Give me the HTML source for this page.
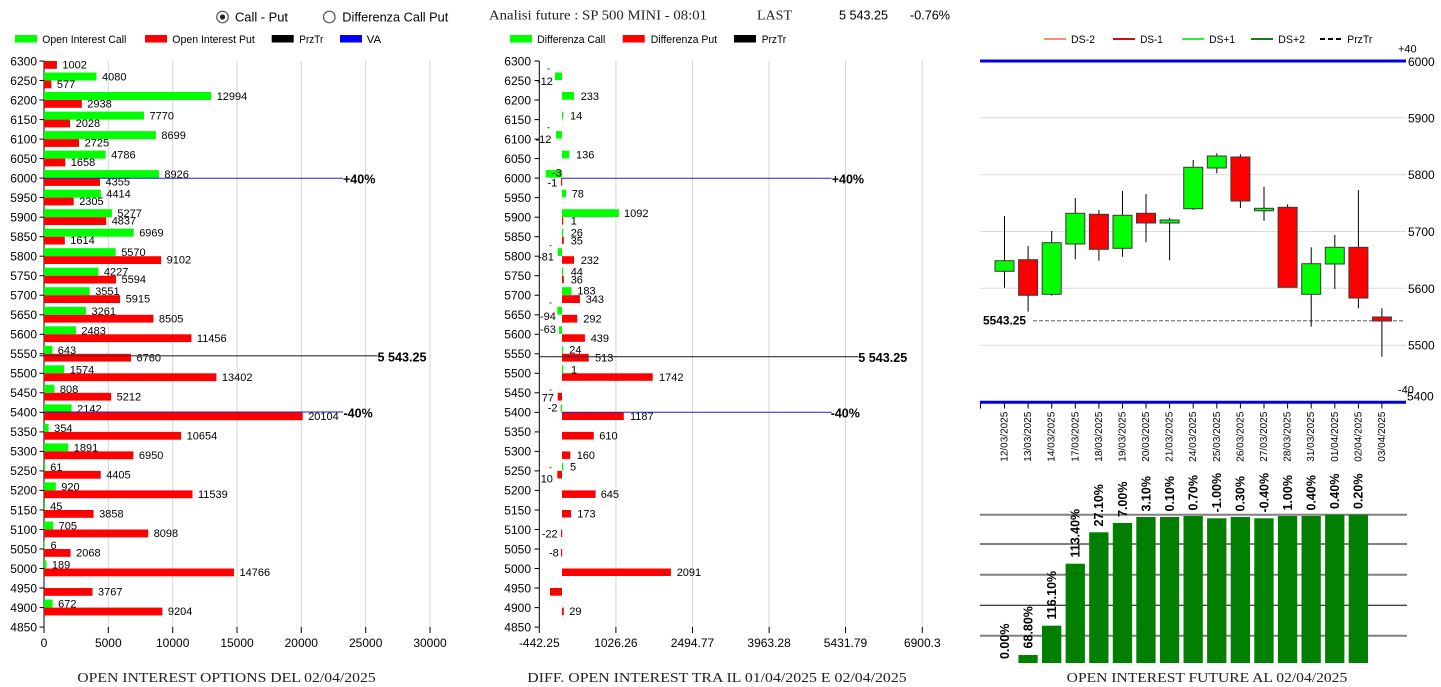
<!DOCTYPE html>
<html><head><meta charset="utf-8"><style>
html,body{margin:0;padding:0;background:#fff;}
svg{display:block;}
text{font-family:"Liberation Sans",Arial,sans-serif;fill:#000;}
.s11{font-size:11px;}
.s12{font-size:12px;}
.ser{font-family:"Liberation Serif","Times New Roman",serif;font-size:13.5px;fill:#222;}
.b{font-weight:bold;font-size:12.5px;}
.mono{font-family:"Liberation Mono","Courier New",monospace;font-weight:bold;font-size:12.5px;}
</style></head><body>
<svg width="1441" height="687" viewBox="0 0 1441 687" xmlns="http://www.w3.org/2000/svg">
<rect width="1441" height="687" fill="#fff"/>

<!-- ===== HEADER ===== -->
<circle cx="222.5" cy="17" r="5.8" fill="#fff" stroke="#555" stroke-width="1.2"/>
<circle cx="222.5" cy="17" r="2.6" fill="#222"/>
<text x="235" y="21.7" style="font-size:13px" textLength="53" lengthAdjust="spacingAndGlyphs">Call - Put</text>
<circle cx="329.3" cy="17" r="5.8" fill="#fff" stroke="#555" stroke-width="1.2"/>
<text x="342.3" y="21.7" style="font-size:13px" textLength="106" lengthAdjust="spacingAndGlyphs">Differenza Call Put</text>

<text x="489" y="19.5" class="ser" style="font-size:13.5px" textLength="218" lengthAdjust="spacingAndGlyphs">Analisi future : SP 500 MINI - 08:01</text>
<text x="757" y="19.5" class="ser" style="font-size:13.5px" textLength="35" lengthAdjust="spacingAndGlyphs">LAST</text>
<text x="839" y="19.5" style="font-size:13px" textLength="49" lengthAdjust="spacingAndGlyphs">5 543.25</text>
<text x="910" y="19.5" style="font-size:13px" textLength="40" lengthAdjust="spacingAndGlyphs">-0.76%</text>

<!-- Left legend -->
<rect x="15" y="35" width="22" height="7.5" fill="#0f0"/>
<text x="42.3" y="43" class="s11" textLength="84" lengthAdjust="spacingAndGlyphs">Open Interest Call</text>
<rect x="145" y="35" width="22" height="7.5" fill="#f00"/>
<text x="172.3" y="43" class="s11" textLength="82.5" lengthAdjust="spacingAndGlyphs">Open Interest Put</text>
<rect x="271.7" y="35" width="22" height="7.5" fill="#000"/>
<text x="299.3" y="43" class="s11" textLength="24" lengthAdjust="spacingAndGlyphs">PrzTr</text>
<rect x="340" y="35" width="22" height="7.5" fill="#00f"/>
<text x="366.7" y="43" class="s11" textLength="14.5" lengthAdjust="spacingAndGlyphs">VA</text>

<!-- Middle legend -->
<rect x="510" y="35" width="22" height="7.5" fill="#0f0"/>
<text x="537.3" y="43" class="s11" textLength="68" lengthAdjust="spacingAndGlyphs">Differenza Call</text>
<rect x="622.7" y="35" width="22" height="7.5" fill="#f00"/>
<text x="650.7" y="43" class="s11" textLength="66.5" lengthAdjust="spacingAndGlyphs">Differenza Put</text>
<rect x="734" y="35" width="22" height="7.5" fill="#000"/>
<text x="761.7" y="43" class="s11" textLength="24.5" lengthAdjust="spacingAndGlyphs">PrzTr</text>

<!-- Right legend -->
<line x1="1044" y1="39" x2="1066" y2="39" stroke="#e9967a" stroke-width="2"/>
<text x="1071" y="43" class="s11" textLength="24" lengthAdjust="spacingAndGlyphs">DS-2</text>
<line x1="1113" y1="39" x2="1135" y2="39" stroke="#cc1111" stroke-width="2"/>
<text x="1140.3" y="43" class="s11" textLength="22.5" lengthAdjust="spacingAndGlyphs">DS-1</text>
<line x1="1182" y1="39" x2="1204" y2="39" stroke="#33ee33" stroke-width="2"/>
<text x="1209.3" y="43" class="s11" textLength="25.7" lengthAdjust="spacingAndGlyphs">DS+1</text>
<line x1="1251" y1="39" x2="1273" y2="39" stroke="#1e7a1e" stroke-width="2"/>
<text x="1278.3" y="43" class="s11" textLength="26.7" lengthAdjust="spacingAndGlyphs">DS+2</text>
<line x1="1320" y1="39" x2="1342" y2="39" stroke="#000" stroke-width="2" stroke-dasharray="5,3"/>
<text x="1347.3" y="43" class="s11" textLength="25" lengthAdjust="spacingAndGlyphs">PrzTr</text>

<!-- ===== LEFT CHART ===== -->
<g stroke="#d6d6d6" stroke-width="1">
<line x1="108.3" y1="61" x2="108.3" y2="627"/>
<line x1="172.7" y1="61" x2="172.7" y2="627"/>
<line x1="237" y1="61" x2="237" y2="627"/>
<line x1="301.3" y1="61" x2="301.3" y2="627"/>
<line x1="365.7" y1="61" x2="365.7" y2="627"/>
<line x1="430" y1="61" x2="430" y2="627"/>
</g>
<g stroke="#000" stroke-width="1">
<line x1="44" y1="61" x2="44" y2="633"/>
<line x1="108.3" y1="627" x2="108.3" y2="633"/>
<line x1="172.7" y1="627" x2="172.7" y2="633"/>
<line x1="237" y1="627" x2="237" y2="633"/>
<line x1="301.3" y1="627" x2="301.3" y2="633"/>
<line x1="365.7" y1="627" x2="365.7" y2="633"/>
<line x1="430" y1="627" x2="430" y2="633"/>
</g>
<g stroke="#000" stroke-width="1">
<line x1="39.5" y1="61" x2="44" y2="61"/><line x1="39.5" y1="80.5" x2="44" y2="80.5"/><line x1="39.5" y1="100" x2="44" y2="100"/><line x1="39.5" y1="119.6" x2="44" y2="119.6"/><line x1="39.5" y1="139.1" x2="44" y2="139.1"/><line x1="39.5" y1="158.6" x2="44" y2="158.6"/><line x1="39.5" y1="178.1" x2="44" y2="178.1"/><line x1="39.5" y1="197.6" x2="44" y2="197.6"/><line x1="39.5" y1="217.2" x2="44" y2="217.2"/><line x1="39.5" y1="236.7" x2="44" y2="236.7"/><line x1="39.5" y1="256.2" x2="44" y2="256.2"/><line x1="39.5" y1="275.7" x2="44" y2="275.7"/><line x1="39.5" y1="295.2" x2="44" y2="295.2"/><line x1="39.5" y1="314.8" x2="44" y2="314.8"/><line x1="39.5" y1="334.3" x2="44" y2="334.3"/><line x1="39.5" y1="353.8" x2="44" y2="353.8"/><line x1="39.5" y1="373.3" x2="44" y2="373.3"/><line x1="39.5" y1="392.8" x2="44" y2="392.8"/><line x1="39.5" y1="412.4" x2="44" y2="412.4"/><line x1="39.5" y1="431.9" x2="44" y2="431.9"/><line x1="39.5" y1="451.4" x2="44" y2="451.4"/><line x1="39.5" y1="470.9" x2="44" y2="470.9"/><line x1="39.5" y1="490.4" x2="44" y2="490.4"/><line x1="39.5" y1="510" x2="44" y2="510"/><line x1="39.5" y1="529.5" x2="44" y2="529.5"/><line x1="39.5" y1="549" x2="44" y2="549"/><line x1="39.5" y1="568.5" x2="44" y2="568.5"/><line x1="39.5" y1="588" x2="44" y2="588"/><line x1="39.5" y1="607.6" x2="44" y2="607.6"/><line x1="39.5" y1="627.1" x2="44" y2="627.1"/>
</g>
<g class="s12" text-anchor="end">
<text x="37" y="65.3">6300</text><text x="37" y="84.8">6250</text><text x="37" y="104.3">6200</text><text x="37" y="123.9">6150</text><text x="37" y="143.4">6100</text><text x="37" y="162.9">6050</text><text x="37" y="182.4">6000</text><text x="37" y="201.9">5950</text><text x="37" y="221.5">5900</text><text x="37" y="241">5850</text><text x="37" y="260.5">5800</text><text x="37" y="280">5750</text><text x="37" y="299.5">5700</text><text x="37" y="319.1">5650</text><text x="37" y="338.6">5600</text><text x="37" y="358.1">5550</text><text x="37" y="377.6">5500</text><text x="37" y="397.1">5450</text><text x="37" y="416.7">5400</text><text x="37" y="436.2">5350</text><text x="37" y="455.7">5300</text><text x="37" y="475.2">5250</text><text x="37" y="494.7">5200</text><text x="37" y="514.3">5150</text><text x="37" y="533.8">5100</text><text x="37" y="553.3">5050</text><text x="37" y="572.8">5000</text><text x="37" y="592.3">4950</text><text x="37" y="611.9">4900</text><text x="37" y="631.4">4850</text>
</g>
<g class="s12" text-anchor="middle">
<text x="44" y="647">0</text><text x="108.3" y="647">5000</text><text x="172.7" y="647">10000</text><text x="237" y="647">15000</text><text x="301.3" y="647">20000</text><text x="365.7" y="647">25000</text><text x="430" y="647">30000</text>
</g>

<!-- left bars -->
<g fill="#0f0">
<rect x="44" y="72.5" width="52.5" height="8"/><rect x="44" y="92" width="167.2" height="8"/><rect x="44" y="111.6" width="100" height="8"/><rect x="44" y="131.1" width="111.9" height="8"/><rect x="44" y="150.6" width="61.6" height="8"/><rect x="44" y="170.1" width="114.9" height="8"/><rect x="44" y="189.6" width="56.8" height="8"/><rect x="44" y="209.2" width="67.9" height="8"/><rect x="44" y="228.7" width="89.7" height="8"/><rect x="44" y="248.2" width="71.7" height="8"/><rect x="44" y="267.7" width="54.4" height="8"/><rect x="44" y="287.2" width="45.7" height="8"/><rect x="44" y="306.8" width="42" height="8"/><rect x="44" y="326.3" width="31.9" height="8"/><rect x="44" y="345.8" width="8.3" height="8"/><rect x="44" y="365.3" width="20.3" height="8"/><rect x="44" y="384.8" width="10.4" height="8"/><rect x="44" y="404.4" width="27.6" height="8"/><rect x="44" y="423.9" width="4.6" height="8"/><rect x="44" y="443.4" width="24.3" height="8"/><rect x="44" y="462.9" width="1" height="8"/><rect x="44" y="482.4" width="11.8" height="8"/><rect x="44" y="502" width="1" height="8"/><rect x="44" y="521.5" width="9.1" height="8"/><rect x="44" y="541" width="0.6" height="8"/><rect x="44" y="560.5" width="2.4" height="8"/><rect x="44" y="599.6" width="8.6" height="8"/>
</g>
<g fill="#f00">
<rect x="44" y="61" width="12.9" height="7.8"/><rect x="44" y="80.5" width="7.4" height="7.8"/><rect x="44" y="100" width="37.8" height="7.8"/><rect x="44" y="119.6" width="26.1" height="7.8"/><rect x="44" y="139.1" width="35.1" height="7.8"/><rect x="44" y="158.6" width="21.3" height="7.8"/><rect x="44" y="178.1" width="56" height="7.8"/><rect x="44" y="197.6" width="29.7" height="7.8"/><rect x="44" y="217.2" width="62.2" height="7.8"/><rect x="44" y="236.7" width="20.8" height="7.8"/><rect x="44" y="256.2" width="117.1" height="7.8"/><rect x="44" y="275.7" width="72" height="7.8"/><rect x="44" y="295.2" width="76.1" height="7.8"/><rect x="44" y="314.8" width="109.4" height="7.8"/><rect x="44" y="334.3" width="147.4" height="7.8"/><rect x="44" y="353.8" width="87" height="7.8"/><rect x="44" y="373.3" width="172.4" height="7.8"/><rect x="44" y="392.8" width="67.1" height="7.8"/><rect x="44" y="412.4" width="258.7" height="7.8"/><rect x="44" y="431.9" width="137.1" height="7.8"/><rect x="44" y="451.4" width="89.4" height="7.8"/><rect x="44" y="470.9" width="56.7" height="7.8"/><rect x="44" y="490.4" width="148.5" height="7.8"/><rect x="44" y="510" width="49.6" height="7.8"/><rect x="44" y="529.5" width="104.2" height="7.8"/><rect x="44" y="549" width="26.6" height="7.8"/><rect x="44" y="568.5" width="190" height="7.8"/><rect x="44" y="588" width="48.5" height="7.8"/><rect x="44" y="607.6" width="118.4" height="7.8"/>
</g>
<g class="s11">
<text x="102" y="80.5">4080</text><text x="216.7" y="100">12994</text><text x="149.5" y="119.6">7770</text><text x="161.4" y="139.1">8699</text><text x="111.1" y="158.6">4786</text><text x="164.4" y="178.1">8926</text><text x="106.3" y="197.6">4414</text><text x="117.4" y="217.2">5277</text><text x="139.2" y="236.7">6969</text><text x="121.2" y="256.2">5570</text><text x="103.9" y="275.7">4227</text><text x="95.2" y="295.2">3551</text><text x="91.5" y="314.8">3261</text><text x="81.4" y="334.3">2483</text><text x="57.8" y="353.8">643</text><text x="69.8" y="373.3">1574</text><text x="59.9" y="392.8">808</text><text x="77.1" y="412.4">2142</text><text x="54.1" y="431.9">354</text><text x="73.8" y="451.4">1891</text><text x="50.3" y="470.9">61</text><text x="61.3" y="490.4">920</text><text x="50.1" y="510">45</text><text x="58.6" y="529.5">705</text><text x="50.5" y="549">6</text><text x="51.9" y="568.5">189</text><text x="58.1" y="607.6">672</text>
<text x="62.4" y="68.5">1002</text><text x="56.9" y="88">577</text><text x="87.3" y="107.5">2938</text><text x="75.6" y="127.1">2028</text><text x="84.6" y="146.6">2725</text><text x="70.8" y="166.1">1658</text><text x="105.5" y="185.6">4355</text><text x="79.2" y="205.1">2305</text><text x="111.7" y="224.7">4837</text><text x="70.3" y="244.2">1614</text><text x="166.6" y="263.7">9102</text><text x="121.5" y="283.2">5594</text><text x="125.6" y="302.7">5915</text><text x="158.9" y="322.3">8505</text><text x="196.9" y="341.8">11456</text><text x="136.5" y="361.3">6760</text><text x="221.9" y="380.8">13402</text><text x="116.6" y="400.3">5212</text><text x="308.2" y="419.9">20104</text><text x="186.6" y="439.4">10654</text><text x="138.9" y="458.9">6950</text><text x="106.2" y="478.4">4405</text><text x="198" y="497.9">11539</text><text x="99.1" y="517.5">3858</text><text x="153.7" y="537">8098</text><text x="76.1" y="556.5">2068</text><text x="239.5" y="576">14766</text><text x="98" y="595.5">3767</text><text x="167.9" y="615.1">9204</text>
</g>
<!-- left lines -->
<line x1="44" y1="178.3" x2="343" y2="178.3" stroke="#2222cc" stroke-width="1"/>
<line x1="44" y1="412" x2="343" y2="412" stroke="#2222cc" stroke-width="1"/>
<line x1="39.5" y1="355.8" x2="377.5" y2="355.8" stroke="#333" stroke-width="1.2"/>
<text x="343" y="183.5" class="b">+40%</text>
<text x="343.5" y="417.3" class="b">-40%</text>
<text x="377.5" y="361.5" class="b" textLength="49" lengthAdjust="spacingAndGlyphs">5 543.25</text>

<text x="77.3" y="682" class="ser" textLength="298.4" lengthAdjust="spacingAndGlyphs">OPEN INTEREST OPTIONS DEL 02/04/2025</text>

<!-- ===== MIDDLE CHART ===== -->
<g stroke="#d6d6d6" stroke-width="1">
<line x1="615.9" y1="61" x2="615.9" y2="627"/>
<line x1="692.5" y1="61" x2="692.5" y2="627"/>
<line x1="769.1" y1="61" x2="769.1" y2="627"/>
<line x1="845.5" y1="61" x2="845.5" y2="627"/>
<line x1="922.3" y1="61" x2="922.3" y2="627"/>
</g>
<g stroke="#000" stroke-width="1">
<line x1="539.3" y1="61" x2="539.3" y2="633"/>
<line x1="615.9" y1="627" x2="615.9" y2="633"/>
<line x1="692.5" y1="627" x2="692.5" y2="633"/>
<line x1="769.1" y1="627" x2="769.1" y2="633"/>
<line x1="845.5" y1="627" x2="845.5" y2="633"/>
<line x1="922.3" y1="627" x2="922.3" y2="633"/>
</g>
<g stroke="#000" stroke-width="1">
<line x1="534.5" y1="61" x2="539.3" y2="61"/><line x1="534.5" y1="80.5" x2="539.3" y2="80.5"/><line x1="534.5" y1="100" x2="539.3" y2="100"/><line x1="534.5" y1="119.6" x2="539.3" y2="119.6"/><line x1="534.5" y1="139.1" x2="539.3" y2="139.1"/><line x1="534.5" y1="158.6" x2="539.3" y2="158.6"/><line x1="534.5" y1="178.1" x2="539.3" y2="178.1"/><line x1="534.5" y1="197.6" x2="539.3" y2="197.6"/><line x1="534.5" y1="217.2" x2="539.3" y2="217.2"/><line x1="534.5" y1="236.7" x2="539.3" y2="236.7"/><line x1="534.5" y1="256.2" x2="539.3" y2="256.2"/><line x1="534.5" y1="275.7" x2="539.3" y2="275.7"/><line x1="534.5" y1="295.2" x2="539.3" y2="295.2"/><line x1="534.5" y1="314.8" x2="539.3" y2="314.8"/><line x1="534.5" y1="334.3" x2="539.3" y2="334.3"/><line x1="534.5" y1="353.8" x2="539.3" y2="353.8"/><line x1="534.5" y1="373.3" x2="539.3" y2="373.3"/><line x1="534.5" y1="392.8" x2="539.3" y2="392.8"/><line x1="534.5" y1="412.4" x2="539.3" y2="412.4"/><line x1="534.5" y1="431.9" x2="539.3" y2="431.9"/><line x1="534.5" y1="451.4" x2="539.3" y2="451.4"/><line x1="534.5" y1="470.9" x2="539.3" y2="470.9"/><line x1="534.5" y1="490.4" x2="539.3" y2="490.4"/><line x1="534.5" y1="510" x2="539.3" y2="510"/><line x1="534.5" y1="529.5" x2="539.3" y2="529.5"/><line x1="534.5" y1="549" x2="539.3" y2="549"/><line x1="534.5" y1="568.5" x2="539.3" y2="568.5"/><line x1="534.5" y1="588" x2="539.3" y2="588"/><line x1="534.5" y1="607.6" x2="539.3" y2="607.6"/><line x1="534.5" y1="627.1" x2="539.3" y2="627.1"/>
</g>
<g class="s12" text-anchor="end">
<text x="531" y="65.3">6300</text><text x="531" y="84.8">6250</text><text x="531" y="104.3">6200</text><text x="531" y="123.9">6150</text><text x="531" y="143.4">6100</text><text x="531" y="162.9">6050</text><text x="531" y="182.4">6000</text><text x="531" y="201.9">5950</text><text x="531" y="221.5">5900</text><text x="531" y="241">5850</text><text x="531" y="260.5">5800</text><text x="531" y="280">5750</text><text x="531" y="299.5">5700</text><text x="531" y="319.1">5650</text><text x="531" y="338.6">5600</text><text x="531" y="358.1">5550</text><text x="531" y="377.6">5500</text><text x="531" y="397.1">5450</text><text x="531" y="416.7">5400</text><text x="531" y="436.2">5350</text><text x="531" y="455.7">5300</text><text x="531" y="475.2">5250</text><text x="531" y="494.7">5200</text><text x="531" y="514.3">5150</text><text x="531" y="533.8">5100</text><text x="531" y="553.3">5050</text><text x="531" y="572.8">5000</text><text x="531" y="592.3">4950</text><text x="531" y="611.9">4900</text><text x="531" y="631.4">4850</text>
</g>
<g class="s12" text-anchor="middle">
<text x="539.3" y="647">-442.25</text><text x="615.9" y="647">1026.26</text><text x="692.5" y="647">2494.77</text><text x="769.1" y="647">3963.28</text><text x="845.5" y="647">5431.79</text><text x="922.3" y="647">6900.3</text>
</g>

<g fill="#0f0">
<rect x="555" y="72.5" width="7" height="7.5"/>
<rect x="562" y="92" width="12.1" height="7.8"/>
<rect x="562" y="111.6" width="1.2" height="7.8"/>
<rect x="556" y="131.1" width="6" height="7.5"/>
<rect x="562" y="150.6" width="7.1" height="7.8"/>
<rect x="545.7" y="170.1" width="16.3" height="7.5"/>
<rect x="562" y="189.6" width="4.1" height="7.8"/>
<rect x="562" y="209.2" width="56.9" height="7.8"/>
<rect x="562" y="228.7" width="1.2" height="7.8"/>
<rect x="557.7" y="248.2" width="4.3" height="7.8"/>
<rect x="562" y="267.7" width="1.2" height="7.8"/>
<rect x="562" y="287.2" width="9.5" height="7.8"/>
<rect x="557.3" y="306.8" width="4.7" height="7.8"/>
<rect x="559" y="326.3" width="3" height="7.6"/>
<rect x="562" y="345.8" width="1.2" height="7.8"/>
<rect x="562" y="365.3" width="1.2" height="7.8"/>
<rect x="560.7" y="404.4" width="1.3" height="7.8"/>
<rect x="562" y="462.9" width="1.2" height="7.8"/>
</g>
<g fill="#f00">
<rect x="561" y="178.1" width="1.2" height="7.5"/>
<rect x="562" y="217.2" width="1.2" height="7.5"/>
<rect x="562" y="236.7" width="1.8" height="7.5"/>
<rect x="562" y="256.2" width="12.1" height="7.6"/>
<rect x="562" y="275.7" width="1.8" height="7.5"/>
<rect x="562" y="295.2" width="17.9" height="7.8"/>
<rect x="562" y="314.8" width="15.2" height="7.8"/>
<rect x="562" y="334.3" width="22.9" height="7.5"/>
<rect x="562" y="353.8" width="26.7" height="7.8"/>
<rect x="562" y="373.3" width="90.7" height="7.5"/>
<rect x="557.7" y="392.8" width="4.3" height="7.8"/>
<rect x="562" y="412.4" width="61.8" height="7.6"/>
<rect x="562" y="431.9" width="31.8" height="7.6"/>
<rect x="562" y="451.4" width="8.3" height="7.5"/>
<rect x="557.3" y="470.9" width="4.7" height="7.5"/>
<rect x="562" y="490.4" width="33.6" height="7.5"/>
<rect x="562" y="510" width="9" height="7.5"/>
<rect x="561" y="529.5" width="1.2" height="7.5"/>
<rect x="561" y="549" width="1.2" height="7.5"/>
<rect x="562" y="568.5" width="108.9" height="7.5"/>
<rect x="550" y="588" width="12" height="7.7"/>
<rect x="562" y="607.6" width="1.8" height="7.5"/>
</g>
<g fill="#333">
<rect x="547.5" y="68.5" width="2" height="1"/>
<rect x="547.5" y="127.2" width="2" height="1"/>
<rect x="549.5" y="245.2" width="2" height="1"/>
<rect x="549.5" y="302.5" width="2" height="1"/>
<rect x="549.5" y="389.5" width="2" height="1"/>
<rect x="549.5" y="467.2" width="2" height="1"/>
<rect x="555.5" y="590.5" width="2" height="1"/>
</g>
<g class="s11">
<text x="537" y="85">-12</text>
<text x="580.7" y="100">233</text>
<text x="570" y="119.5">14</text>
<text x="535.5" y="143">-12</text>
<text x="576" y="158.5">136</text>
<text x="552" y="176.5">-3</text>
<text x="547.5" y="186.3">-1</text>
<text x="571.7" y="197.5">78</text>
<text x="624" y="217">1092</text>
<text x="570.7" y="224.5">1</text>
<text x="570.7" y="236.5">26</text>
<text x="570.7" y="244.3">35</text>
<text x="538" y="260.5">-81</text>
<text x="580.7" y="264">232</text>
<text x="570.7" y="275.5">44</text>
<text x="570.7" y="283.5">36</text>
<text x="577.3" y="294.5">183</text>
<text x="585.7" y="303">343</text>
<text x="540" y="320">-94</text>
<text x="583.3" y="322.5">292</text>
<text x="540" y="333">-63</text>
<text x="590.7" y="341.8">439</text>
<text x="569.3" y="353.3">24</text>
<text x="595" y="361.5">513</text>
<text x="571" y="373.3">1</text>
<text x="659" y="381">1742</text>
<text x="541.7" y="401.5">77</text>
<text x="547.7" y="411.7">-2</text>
<text x="630" y="420">1187</text>
<text x="599.3" y="439.4">610</text>
<text x="576.7" y="458.9">160</text>
<text x="570" y="470.5">5</text>
<text x="540.7" y="482.7">10</text>
<text x="600.7" y="497.9">645</text>
<text x="577.3" y="517.5">173</text>
<text x="541.7" y="537.3">-22</text>
<text x="549" y="556.5">-8</text>
<text x="676.7" y="576">2091</text>
<text x="569.3" y="615">29</text>
</g>
<line x1="562" y1="178.3" x2="831.7" y2="178.3" stroke="#2222cc" stroke-width="1"/>
<line x1="562" y1="412.3" x2="831.7" y2="412.3" stroke="#2222cc" stroke-width="1"/>
<line x1="539.3" y1="356.7" x2="858.3" y2="356.7" stroke="#333" stroke-width="1.2"/>
<text x="831.7" y="183.5" class="b">+40%</text>
<text x="830.7" y="417.5" class="b">-40%</text>
<text x="858.3" y="362" class="b" textLength="49" lengthAdjust="spacingAndGlyphs">5 543.25</text>

<text x="527.3" y="682" class="ser" textLength="379.4" lengthAdjust="spacingAndGlyphs">DIFF. OPEN INTEREST TRA IL 01/04/2025 E 02/04/2025</text>

<!-- ===== RIGHT CANDLE CHART ===== -->
<g stroke="#dcdcdc" stroke-width="1">
<line x1="980" y1="117.8" x2="1406" y2="117.8"/>
<line x1="980" y1="174.7" x2="1406" y2="174.7"/>
<line x1="980" y1="231.5" x2="1406" y2="231.5"/>
<line x1="980" y1="288.3" x2="1406" y2="288.3"/>
<line x1="980" y1="345.2" x2="1406" y2="345.2"/>
</g>
<line x1="980" y1="61" x2="1406" y2="61" stroke="#0000ee" stroke-width="3"/>
<line x1="980" y1="402.3" x2="1406" y2="402.3" stroke="#0000ee" stroke-width="3"/>
<g class="s12">
<text x="1398" y="52.7" style="font-size:11px">+40</text>
<text x="1408" y="66">6000</text>
<text x="1408" y="122.3">5900</text>
<text x="1408" y="179.2">5800</text>
<text x="1408" y="236">5700</text>
<text x="1408" y="292.8">5600</text>
<text x="1408" y="349.7">5500</text>
<text x="1398" y="393.3" style="font-size:11px">-40</text>
<text x="1407" y="400.5">5400</text>
</g>
<line x1="1033" y1="320.7" x2="1405" y2="320.7" stroke="#888" stroke-width="1.3" stroke-dasharray="4,2"/>
<text x="983" y="324.6" class="b" style="font-size:12px" textLength="43" lengthAdjust="spacingAndGlyphs">5543.25</text>

<!-- wicks -->
<g stroke="#000" stroke-width="1">
<line x1="1004.5" y1="216" x2="1004.5" y2="287.7"/>
<line x1="1028.1" y1="246" x2="1028.1" y2="311.7"/>
<line x1="1051.7" y1="231" x2="1051.7" y2="295.7"/>
<line x1="1075.3" y1="198" x2="1075.3" y2="259.3"/>
<line x1="1098.9" y1="210" x2="1098.9" y2="260.7"/>
<line x1="1122.5" y1="191" x2="1122.5" y2="256.7"/>
<line x1="1146" y1="194" x2="1146" y2="242.3"/>
<line x1="1169.6" y1="218" x2="1169.6" y2="260.3"/>
<line x1="1193.2" y1="160" x2="1193.2" y2="210"/>
<line x1="1216.8" y1="153.3" x2="1216.8" y2="173.3"/>
<line x1="1240.4" y1="154.3" x2="1240.4" y2="208"/>
<line x1="1264" y1="186.7" x2="1264" y2="220.7"/>
<line x1="1287.6" y1="204.3" x2="1287.6" y2="287.3"/>
<line x1="1311.2" y1="247.3" x2="1311.2" y2="326.7"/>
<line x1="1334.8" y1="235" x2="1334.8" y2="289"/>
<line x1="1358.4" y1="190" x2="1358.4" y2="308.3"/>
<line x1="1381.9" y1="308.3" x2="1381.9" y2="356.7"/>
</g>
<g stroke="#3a3a3a" stroke-width="1">
<rect x="995" y="260.7" width="19" height="10.6" fill="#0f0"/>
<rect x="1018.6" y="259.7" width="19" height="35.6" fill="#f00"/>
<rect x="1042.2" y="242.7" width="19" height="51.6" fill="#0f0"/>
<rect x="1065.8" y="213.3" width="19" height="30.7" fill="#0f0"/>
<rect x="1089.4" y="214.3" width="19" height="35" fill="#f00"/>
<rect x="1113" y="215.3" width="19" height="33" fill="#0f0"/>
<rect x="1136.5" y="213.3" width="19" height="9.7" fill="#f00"/>
<rect x="1160.1" y="220" width="19" height="3" fill="#0f0"/>
<rect x="1183.7" y="167.3" width="19" height="41.4" fill="#0f0"/>
<rect x="1207.3" y="156" width="19" height="12" fill="#0f0"/>
<rect x="1230.9" y="157" width="19" height="44" fill="#f00"/>
<rect x="1254.5" y="208.3" width="19" height="2.5" fill="#0f0"/>
<rect x="1278.1" y="207.3" width="19" height="80" fill="#f00"/>
<rect x="1301.7" y="263.7" width="19" height="30.6" fill="#0f0"/>
<rect x="1325.3" y="247.3" width="19" height="16.7" fill="#0f0"/>
<rect x="1348.9" y="247.3" width="19" height="50.7" fill="#f00"/>
<rect x="1372.4" y="317" width="19" height="4" fill="#f00"/>
</g>

<!-- date ticks -->
<g stroke="#000" stroke-width="1">
<line x1="980.5" y1="403" x2="980.5" y2="408.5"/>
<line x1="1004.5" y1="403" x2="1004.5" y2="408.5"/><line x1="1028.1" y1="403" x2="1028.1" y2="408.5"/><line x1="1051.7" y1="403" x2="1051.7" y2="408.5"/><line x1="1075.3" y1="403" x2="1075.3" y2="408.5"/><line x1="1098.9" y1="403" x2="1098.9" y2="408.5"/><line x1="1122.5" y1="403" x2="1122.5" y2="408.5"/><line x1="1146" y1="403" x2="1146" y2="408.5"/><line x1="1169.6" y1="403" x2="1169.6" y2="408.5"/><line x1="1193.2" y1="403" x2="1193.2" y2="408.5"/><line x1="1216.8" y1="403" x2="1216.8" y2="408.5"/><line x1="1240.4" y1="403" x2="1240.4" y2="408.5"/><line x1="1264" y1="403" x2="1264" y2="408.5"/><line x1="1287.6" y1="403" x2="1287.6" y2="408.5"/><line x1="1311.2" y1="403" x2="1311.2" y2="408.5"/><line x1="1334.8" y1="403" x2="1334.8" y2="408.5"/><line x1="1358.4" y1="403" x2="1358.4" y2="408.5"/><line x1="1381.9" y1="403" x2="1381.9" y2="408.5"/>
</g>
<g style="font-size:10px" text-anchor="end">
<text transform="translate(1007.5,411.7) rotate(-90)" textLength="50" lengthAdjust="spacingAndGlyphs">12/03/2025</text>
<text transform="translate(1031.1,411.7) rotate(-90)" textLength="50" lengthAdjust="spacingAndGlyphs">13/03/2025</text>
<text transform="translate(1054.7,411.7) rotate(-90)" textLength="50" lengthAdjust="spacingAndGlyphs">14/03/2025</text>
<text transform="translate(1078.3,411.7) rotate(-90)" textLength="50" lengthAdjust="spacingAndGlyphs">17/03/2025</text>
<text transform="translate(1101.9,411.7) rotate(-90)" textLength="50" lengthAdjust="spacingAndGlyphs">18/03/2025</text>
<text transform="translate(1125.5,411.7) rotate(-90)" textLength="50" lengthAdjust="spacingAndGlyphs">19/03/2025</text>
<text transform="translate(1149,411.7) rotate(-90)" textLength="50" lengthAdjust="spacingAndGlyphs">20/03/2025</text>
<text transform="translate(1172.6,411.7) rotate(-90)" textLength="50" lengthAdjust="spacingAndGlyphs">21/03/2025</text>
<text transform="translate(1196.2,411.7) rotate(-90)" textLength="50" lengthAdjust="spacingAndGlyphs">24/03/2025</text>
<text transform="translate(1219.8,411.7) rotate(-90)" textLength="50" lengthAdjust="spacingAndGlyphs">25/03/2025</text>
<text transform="translate(1243.4,411.7) rotate(-90)" textLength="50" lengthAdjust="spacingAndGlyphs">26/03/2025</text>
<text transform="translate(1267,411.7) rotate(-90)" textLength="50" lengthAdjust="spacingAndGlyphs">27/03/2025</text>
<text transform="translate(1290.6,411.7) rotate(-90)" textLength="50" lengthAdjust="spacingAndGlyphs">28/03/2025</text>
<text transform="translate(1314.2,411.7) rotate(-90)" textLength="50" lengthAdjust="spacingAndGlyphs">31/03/2025</text>
<text transform="translate(1337.8,411.7) rotate(-90)" textLength="50" lengthAdjust="spacingAndGlyphs">01/04/2025</text>
<text transform="translate(1361.4,411.7) rotate(-90)" textLength="50" lengthAdjust="spacingAndGlyphs">02/04/2025</text>
<text transform="translate(1384.9,411.7) rotate(-90)" textLength="50" lengthAdjust="spacingAndGlyphs">03/04/2025</text>
</g>

<!-- ===== RIGHT BAR CHART ===== -->
<line x1="980" y1="514.7" x2="1407" y2="514.7" stroke="#808080" stroke-width="2"/>
<line x1="980" y1="544" x2="1407" y2="544" stroke="#000" stroke-width="1"/>
<line x1="980" y1="574.7" x2="1407" y2="574.7" stroke="#808080" stroke-width="2"/>
<line x1="980" y1="605.3" x2="1407" y2="605.3" stroke="#000" stroke-width="1"/>
<line x1="980" y1="635.7" x2="1407" y2="635.7" stroke="#808080" stroke-width="2"/>
<g fill="#007f00">
<rect x="1018.4" y="655" width="19.3" height="8"/>
<rect x="1042" y="625.7" width="19.3" height="37.3"/>
<rect x="1065.6" y="563.7" width="19.3" height="99.3"/>
<rect x="1089.2" y="532.3" width="19.3" height="130.7"/>
<rect x="1112.8" y="523" width="19.3" height="140"/>
<rect x="1136.3" y="517" width="19.3" height="146"/>
<rect x="1159.9" y="517" width="19.3" height="146"/>
<rect x="1183.5" y="516" width="19.3" height="147"/>
<rect x="1207.1" y="518.3" width="19.3" height="144.7"/>
<rect x="1230.7" y="517" width="19.3" height="146"/>
<rect x="1254.3" y="518.3" width="19.3" height="144.7"/>
<rect x="1277.9" y="516" width="19.3" height="147"/>
<rect x="1301.5" y="516" width="19.3" height="147"/>
<rect x="1325.1" y="514.7" width="19.3" height="148.3"/>
<rect x="1348.7" y="514.7" width="19.3" height="148.3"/>
</g>
<g class="mono">
<text transform="translate(1008.8,659) rotate(-90)">0.00%</text>
<text transform="translate(1032.4,648.5) rotate(-90)">68.80%</text>
<text transform="translate(1056,619.5) rotate(-90)">116.10%</text>
<text transform="translate(1079.6,557.5) rotate(-90)">113.40%</text>
<text transform="translate(1103.2,526.5) rotate(-90)">27.10%</text>
<text transform="translate(1126.8,517) rotate(-90)">7.00%</text>
<text transform="translate(1150.3,511.5) rotate(-90)">3.10%</text>
<text transform="translate(1173.9,511.5) rotate(-90)">0.10%</text>
<text transform="translate(1197.5,510.5) rotate(-90)">0.70%</text>
<text transform="translate(1221.1,512.5) rotate(-90)">-1.00%</text>
<text transform="translate(1244.7,511.5) rotate(-90)">0.30%</text>
<text transform="translate(1268.3,512.5) rotate(-90)">-0.40%</text>
<text transform="translate(1291.9,510.5) rotate(-90)">1.00%</text>
<text transform="translate(1315.5,510.5) rotate(-90)">0.40%</text>
<text transform="translate(1339.1,509) rotate(-90)">0.40%</text>
<text transform="translate(1362.7,509) rotate(-90)">0.20%</text>
</g>

<text x="1066.7" y="682" class="ser" textLength="280.6" lengthAdjust="spacingAndGlyphs">OPEN INTEREST FUTURE AL 02/04/2025</text>
</svg>
</body></html>
